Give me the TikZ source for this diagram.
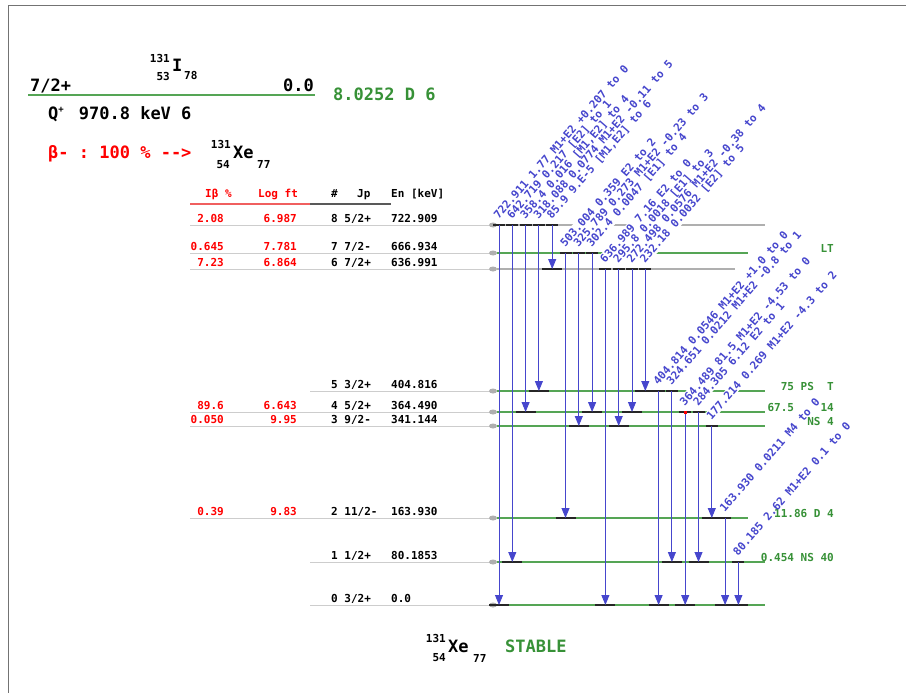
\documentclass[tikz,border=0pt]{standalone}
\usepackage{fontspec}
\setmonofont{DejaVu Sans Mono}
\usetikzlibrary{arrows.meta,calc}
\definecolor{gblue}{RGB}{70,70,205}
\definecolor{lgreen}{RGB}{85,165,85}
\definecolor{tgreen}{RGB}{55,145,55}
\definecolor{lgray}{RGB}{175,175,175}
\definecolor{tline}{RGB}{205,205,205}
\definecolor{hred}{RGB}{240,95,95}
\newcommand{\tabfont}{\ttfamily\bfseries\fontsize{11}{13}\selectfont}
\newcommand{\bigfont}{\ttfamily\bfseries\fontsize{17}{20}\selectfont}
\newcommand{\gammalist}{0/8/0/{722.911 1.77 M1+E2 +0.207 to 0},
  1/8/1/{642.719 0.217 [E2] to 1},
  2/8/4/{358.4 0.016 [M1,E2] to 4},
  3/8/5/{318.088 0.0774 M1+E2 -0.11 to 5},
  4/8/6/{85.9 9.E-5 [M1,E2] to 6},
  5/7/2/{503.004 0.359 E2 to 2},
  6/7/3/{325.789 0.273 M1+E2 -0.23 to 3},
  7/7/4/{302.4 0.0047 [E1] to 4},
  8/6/0/{636.989 7.16 E2 to 0},
  9/6/3/{295.8 0.0018 [E1] to 3},
  10/6/4/{272.498 0.0576 M1+E2 -0.38 to 4},
  11/6/5/{232.18 0.0032 [E2] to 5},
  12/5/0/{404.814 0.0546 M1+E2 +1.0 to 0},
  13/5/1/{324.651 0.0212 M1+E2 -0.8 to 1},
  14/4/0/{364.489 81.5 M1+E2 -4.53 to 0},
  15/4/1/{284.305 6.12 E2 to 1},
  16/3/2/{177.214 0.269 M1+E2 -4.3 to 2},
  17/2/0/{163.930 0.0211 M4 to 0},
  18/1/0/{80.185 2.62 M1+E2 0.1 to 0}}

\begin{document}
\begin{tikzpicture}[x=1pt,y=-1pt,font=\tabfont,
  txt/.style={inner sep=0pt,anchor=base west},
  lev/.style={line width=2.5pt},
  tabline/.style={draw=tline,line width=1pt},
  tick/.style={draw=black!85,line width=1.4pt},
  gam/.style={draw=gblue,line width=0.9pt,-{Triangle[length=10pt,width=8pt]}},
  glab/.style={text=gblue,rotate=49,anchor=base west,inner sep=1pt},
  gerase/.style={glab,fill=white,text=white}]
\useasboundingbox (0,0) rectangle (906,693);
\draw[black!55,line width=0.8pt] (906,5) -- (8,5) -- (8,693);

\node[txt,font=\bigfont] (pjp) at (30,92) {7/2+};
\node[txt,font=\bigfont,anchor=base east] (pen) at (314,92) {0.0};
\draw[lgreen,line width=2pt] (28,95) -- (315,95);
\node[txt,font=\bigfont] (pI) at (172,72) {I};
\node[txt,anchor=base east] (pA) at (170,63) {131};
\node[txt,anchor=base east] (pZ) at (170,81) {53};
\node[txt] (pN) at (184,80) {78};
\node[txt,font=\bigfont,text=tgreen] (phl) at (333,101) {8.0252 D 6};
\node[txt,font=\bigfont] (qval) at (48,120) {Q\makebox[0.6em][l]{\raisebox{0.45em}{\fontsize{9}{9}\selectfont +}} 970.8 keV 6};
\node[txt,font=\bigfont,text=red] (bdec) at (48,158) {β- : 100 \% -{}->};
\node[txt,font=\bigfont] (dX) at (233,158) {Xe};
\node[txt,anchor=base east] (dA) at (231,148) {131};
\node[txt,anchor=base east] (dZ) at (230,168) {54};
\node[txt] (dN) at (257,168) {77};

\node[txt,text=red] (hib) at (205,197) {Iβ \%};
\node[txt,text=red] (hlf) at (258,197) {Log ft};
\node[txt] (hnum) at (331,197) {\#};
\node[txt] (hjp) at (357,197) {Jp};
\node[txt] (hen) at (391,197) {En [keV]};
\draw[hred,line width=2pt] (190,204) -- (310,204);
\draw[black!65,line width=2pt] (310,204) -- (391,204);

\foreach \n/\y/\ib/\lf/\jp/\en/\xs/\c/\xe in {
  8/225/2.08/6.987/{8 5/2+}/722.909/190/lgray/765,
  7/253/0.645/7.781/{7 7/2-}/666.934/190/lgreen/748,
  6/269/7.23/6.864/{6 7/2+}/636.991/190/lgray/735,
  5/391/{}/{}/{5 3/2+}/404.816/310/lgreen/765,
  4/412/89.6/6.643/{4 5/2+}/364.490/190/lgreen/765,
  3/426/0.050/9.95/{3 9/2-}/341.144/190/lgreen/765,
  2/518/0.39/9.83/{2 11/2-}/163.930/190/lgreen/748,
  1/562/{}/{}/{1 1/2+}/80.1853/310/lgreen/765,
  0/605/{}/{}/{0 3/2+}/0.0/310/lgreen/765}{
  \coordinate (l\n) at (497,\y);
  \draw[tabline] (\xs,\y) -- (490,\y);
  \fill[lgray] (493,\y) ellipse (4 and 2.5);
  \draw[lev,\c] (l\n) -- (\xe,\y);
  \node[txt,anchor=base east,text=red] (ib\n) at (224,\y-3) {\ib};
  \node[txt,anchor=base east,text=red] (lf\n) at (297,\y-3) {\lf};
  \node[txt] (jp\n) at (331,\y-3) {\jp};
  \node[txt] (en\n) at (391,\y-3) {\en};
}

\foreach \i/\s/\d/\t in \gammalist {
  \coordinate (g\i) at ({499+13.3*\i},0);
  \node[gerase] (ge\i) at ($(g\i|-l\s)+(-1,-5)$) {\t};
}

\node[txt,anchor=base east,text=tgreen] (t7) at (834,252) {LT};
\node[txt,anchor=base east,text=tgreen] (t5) at (834,390) {75 PS \phantom{L}T};
\node[txt,anchor=base east,text=tgreen] (t4) at (834,411) {67.5 \phantom{PS} 14};
\node[txt,anchor=base east,text=tgreen] (t3) at (834,425) {NS 4};
\node[txt,anchor=base east,text=tgreen] (t2) at (834,517) {11.86 D 4};
\node[txt,anchor=base east,text=tgreen] (t1) at (834,561) {0.454 NS 40};

\foreach \i/\s/\d/\t in \gammalist {
  \draw[tick] ($(g\i|-l\s)+(-6,0)$) -- ++(12,0);
  \draw[tick] ($(g\i|-l\d)+(-10,0)$) -- ++(20,0);
  \draw[gam] (g\i|-l\s) -- (g\i|-l\d);
  \node[glab] (gl\i) at ($(g\i|-l\s)+(-1,-5)$) {\t};
}
\fill[red] ($(g14|-l4)+(-1.5,-1.5)$) rectangle ++(3,3);

\node[txt,font=\bigfont] (sX) at (448,652) {Xe};
\node[txt,anchor=base east] (sA) at (446,642) {131};
\node[txt,anchor=base east] (sZ) at (446,661) {54};
\node[txt] (sN) at (473,662) {77};
\node[txt,font=\bigfont,text=tgreen] (stab) at (505,652) {STABLE};
\end{tikzpicture}
\end{document}
